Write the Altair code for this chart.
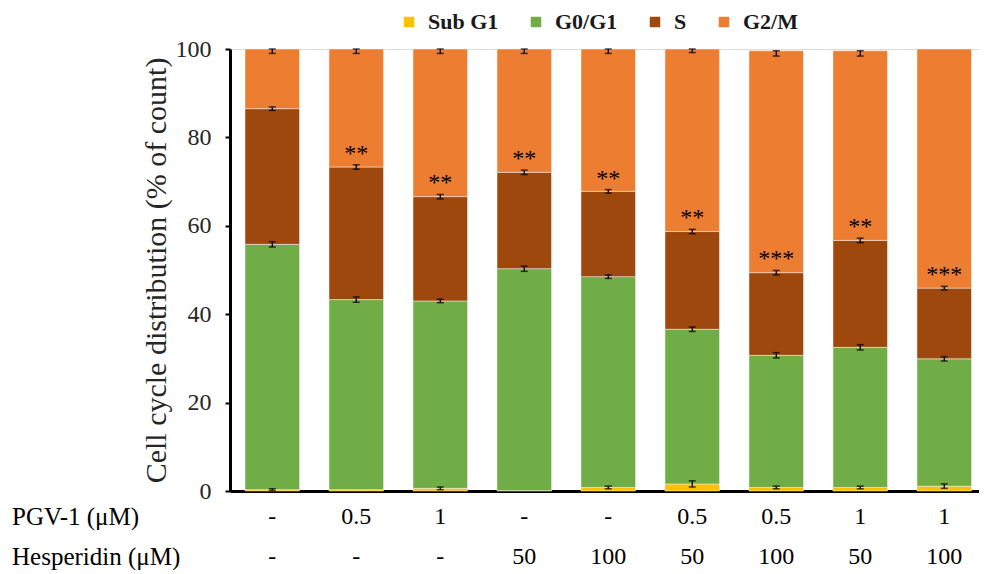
import altair as alt
import pandas as pd

FONT = "Liberation Serif"

groups = ["g1", "g2", "g3", "g4", "g5", "g6", "g7", "g8", "g9"]
pgv = ["-", "0.5", "1", "-", "-", "0.5", "0.5", "1", "1"]
hes = ["-", "-", "-", "50", "100", "50", "100", "50", "100"]
row_titles = ["PGV-1 (μM)", "Hesperidin (μM)"]

phases = ["Sub G1", "G0/G1", "S", "G2/M"]
colors = ["#FFC000", "#70AD47", "#9E480E", "#ED7D31"]

sub_g1 = [0.3, 0.3, 0.6, 0.1, 0.8, 1.6, 0.8, 0.8, 1.1]
g0_g1 = [55.5, 43.0, 42.4, 50.2, 47.7, 35.0, 29.9, 31.7, 28.8]
s_phase = [30.7, 30.0, 23.6, 21.8, 19.3, 22.1, 18.7, 24.2, 16.0]
g2_m = [13.5, 26.7, 33.4, 27.9, 32.2, 41.3, 50.2, 42.9, 54.1]

sd_sub_g1 = [0.2, 0.0, 0.3, 0.0, 0.3, 0.7, 0.3, 0.3, 0.5]
sd_g0_g1 = [0.6, 0.6, 0.4, 0.6, 0.4, 0.5, 0.6, 0.6, 0.5]
sd_s = [0.4, 0.5, 0.5, 0.5, 0.4, 0.5, 0.5, 0.5, 0.4]
sd_g2_m = [0.5, 0.5, 0.5, 0.5, 0.5, 0.4, 0.6, 0.6, 0.0]

stars = ["", "**", "**", "**", "**", "**", "***", "**", "***"]

series = [sub_g1, g0_g1, s_phase, g2_m]
sds = [sd_sub_g1, sd_g0_g1, sd_s, sd_g2_m]

rows = []
for i, g in enumerate(groups):
    cum = 0.0
    for j, ph in enumerate(phases):
        v = series[j][i]
        lo = cum
        hi = cum + v
        cum = hi
        sd = sds[j][i]
        centre = hi - sd if j == len(phases) - 1 else hi
        rows.append({"group": g, "phase": ph, "order": j, "value": v,
                     "lo": lo, "hi": hi, "sd": sd,
                     "elo": centre - sd, "ehi": centre + sd})
df = pd.DataFrame(rows)
df_err = df[df["sd"] > 0]

s_top = df[df["phase"] == "S"][["group", "hi", "sd"]].copy()
s_top["star"] = stars
s_top["ypos"] = s_top["hi"] + s_top["sd"]
df_star = s_top[s_top["star"] != ""]

df_lab = pd.DataFrame({"group": groups, "pgv": pgv, "hes": hes})
df_titles = pd.DataFrame({"title": row_titles, "row": [0, 1]})

xscale = alt.Scale(domain=groups, paddingInner=0.351, paddingOuter=0.134, align=0.667)
x_enc = alt.X("group:N", scale=xscale,
              axis=alt.Axis(labels=False, ticks=False, title=None,
                            domainColor="black", domainWidth=3))
yscale = alt.Scale(domain=[0, 100], nice=False)

bars = alt.Chart(df).mark_bar(stroke="#f4f4f4", strokeWidth=0.5).encode(
    x=x_enc,
    y=alt.Y("lo:Q", scale=yscale,
            axis=alt.Axis(values=[0, 20, 40, 60, 80, 100],
                          title="Cell cycle distribution (% of count)",
                          titleFont=FONT, titleFontSize=30, titleFontWeight="normal",
                          titleColor="#262626", titlePadding=4,
                          labelFont=FONT, labelFontSize=24, labelColor="#262626",
                          labelPadding=14, tickColor="black", tickWidth=2, tickSize=5,
                          domainColor="black", domainWidth=3, grid=False)),
    y2="hi:Q",
    color=alt.Color("phase:N", scale=alt.Scale(domain=phases, range=colors),
                    legend=alt.Legend(title=None, orient="none", direction="horizontal",
                                      legendX=168, legendY=-38, symbolType="square",
                                      symbolSize=110, symbolStrokeWidth=0,
                                      labelFont=FONT, labelFontSize=22,
                                      labelFontWeight="bold", labelColor="#1a1a1a",
                                      labelOffset=8, columnPadding=26, padding=0)),
)

err_rule = alt.Chart(df_err).mark_rule(color="black", strokeWidth=1.3).encode(
    x=alt.X("group:N", scale=xscale), y="elo:Q", y2="ehi:Q")
cap_lo = alt.Chart(df_err).mark_tick(color="black", size=7, thickness=1.5).encode(
    x=alt.X("group:N", scale=xscale), y="elo:Q")
cap_hi = alt.Chart(df_err).mark_tick(color="black", size=7, thickness=1.5).encode(
    x=alt.X("group:N", scale=xscale), y="ehi:Q")

star_txt = alt.Chart(df_star).mark_text(font=FONT, fontSize=24, color="black",
                                        baseline="alphabetic", dy=-4).encode(
    x=alt.X("group:N", scale=xscale), y="ypos:Q", text="star:N")

row1 = alt.Chart(df_lab).mark_text(font=FONT, fontSize=24, color="black",
                                   baseline="middle").encode(
    x=alt.X("group:N", scale=xscale), y=alt.value(468), text="pgv:N")
row2 = alt.Chart(df_lab).mark_text(font=FONT, fontSize=24, color="black",
                                   baseline="middle").encode(
    x=alt.X("group:N", scale=xscale), y=alt.value(508), text="hes:N")

title1 = alt.Chart(df_titles[df_titles["row"] == 0]).mark_text(
    font=FONT, fontSize=25, color="black", align="left", baseline="middle").encode(
    x=alt.value(-218), y=alt.value(468), text="title:N")
title2 = alt.Chart(df_titles[df_titles["row"] == 1]).mark_text(
    font=FONT, fontSize=25, color="black", align="left", baseline="middle").encode(
    x=alt.value(-218), y=alt.value(508), text="title:N")

chart = alt.layer(bars, err_rule, cap_lo, cap_hi, star_txt, row1, row2, title1, title2).properties(
    width=749, height=442,
    padding={"left": 4, "top": 3, "right": 0, "bottom": 0},
).configure_view(stroke=None).configure(background="white")

chart.save("out.html", embed_options={"renderer": "svg", "actions": False})
